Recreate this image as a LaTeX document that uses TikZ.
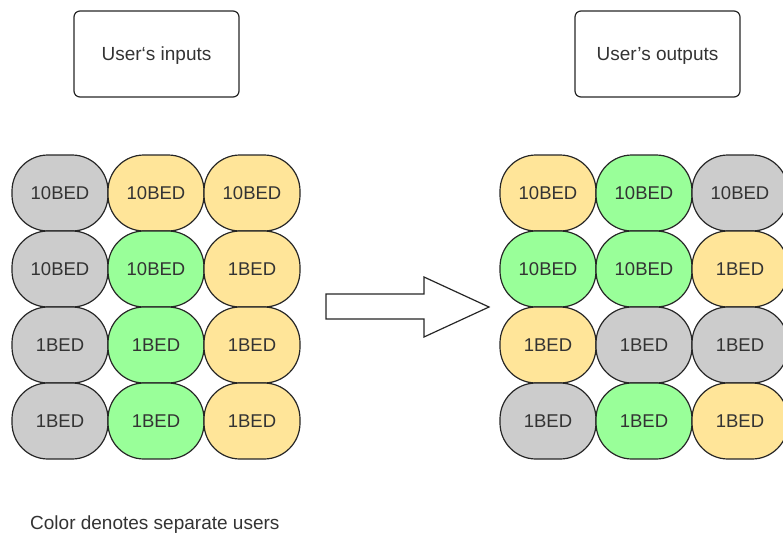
\documentclass[tikz,border=0pt]{standalone}
\usepackage{fontspec}
\setmainfont{Liberation Sans}
\definecolor{cgray}{HTML}{CCCCCC}
\definecolor{cyel}{HTML}{FFE599}
\definecolor{cgrn}{HTML}{99FF99}
\definecolor{ctext}{HTML}{333333}
\begin{document}
\begin{tikzpicture}[x=1pt,y=-1pt,
  cell/.style={draw=black!85, line width=1.2pt, rounded corners=36pt,
    minimum width=96pt, minimum height=76pt, inner sep=0pt, outer sep=0pt,
    text=ctext, font=\fontsize{18.5}{22}\selectfont},
  cg/.style={cell, fill=cgray},
  cy/.style={cell, fill=cyel},
  cn/.style={cell, fill=cgrn},
  titlebox/.style={draw=black!85, line width=1.2pt, rounded corners=6pt,
    minimum width=165pt, minimum height=86pt, inner sep=0pt},
  titletext/.style={anchor=base, inner sep=0pt, text=ctext, font=\fontsize{19}{23}\selectfont},
  blockarrow/.style={draw=black!85, line width=1.2pt, fill=white, line join=miter}
]
\useasboundingbox (0,0) rectangle (783,535);

% title boxes
\node[titlebox] (in) at (156.5,54) {};
\node[titletext] (intext) at (156.5,60) {User‘s inputs};
\node[titlebox] (out) at (657.5,54) {};
\node[titletext] (outtext) at (657.5,60) {User’s outputs};

% left grid
\node[cg] (l11) at (60,193) {10BED};
\node[cy] (l12) at (156,193) {10BED};
\node[cy] (l13) at (252,193) {10BED};
\node[cg] (l21) at (60,269) {10BED};
\node[cn] (l22) at (156,269) {10BED};
\node[cy] (l23) at (252,269) {1BED};
\node[cg] (l31) at (60,345) {1BED};
\node[cn] (l32) at (156,345) {1BED};
\node[cy] (l33) at (252,345) {1BED};
\node[cg] (l41) at (60,421) {1BED};
\node[cn] (l42) at (156,421) {1BED};
\node[cy] (l43) at (252,421) {1BED};

% right grid
\node[cy] (r11) at (548,193) {10BED};
\node[cn] (r12) at (644,193) {10BED};
\node[cg] (r13) at (740,193) {10BED};
\node[cn] (r21) at (548,269) {10BED};
\node[cn] (r22) at (644,269) {10BED};
\node[cy] (r23) at (740,269) {1BED};
\node[cy] (r31) at (548,345) {1BED};
\node[cg] (r32) at (644,345) {1BED};
\node[cg] (r33) at (740,345) {1BED};
\node[cg] (r41) at (548,421) {1BED};
\node[cn] (r42) at (644,421) {1BED};
\node[cy] (r43) at (740,421) {1BED};

% block arrow
\draw[blockarrow] (326,294) -- (424,294) -- (424,277) -- (489,307)
  -- (424,337) -- (424,319) -- (326,319) -- cycle;

% caption
\node[anchor=base west, inner sep=0pt, text=ctext, font=\fontsize{19}{23}\selectfont]
  (cap) at (30,529) {Color denotes separate users};
\end{tikzpicture}
\end{document}
